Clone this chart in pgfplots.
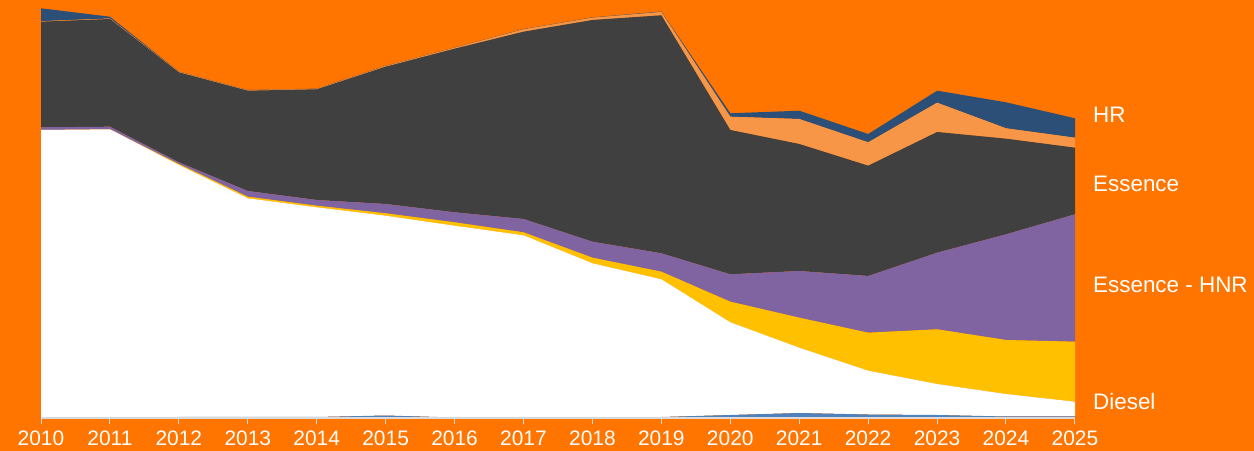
\documentclass[border=0pt]{standalone}
\usepackage{pgfplots}
\usepackage{pgfplotstable}
\pgfplotsset{compat=1.18}
\usepackage{fontspec}
\setmainfont{Liberation Sans}
\definecolor{bgor}{HTML}{FF7500}
\definecolor{dgray}{HTML}{404040}
\definecolor{purp}{HTML}{8064A2}
\definecolor{yel}{HTML}{FFC000}
\definecolor{lor}{HTML}{F79646}
\definecolor{dblue}{HTML}{2C4F78}
\definecolor{lblue}{HTML}{4F81BD}
\definecolor{axgray}{HTML}{D9D9D9}
\pgfplotstableread{
year b   w     y    p     d     lo   hr
2010 0   288   0    2.7   105.6 0.5  12.9
2011 0   288.7 0    2.6   107.7 0.5  1.8
2012 1   252   1    1.7   90    0.5  0.2
2013 1.2 218.5 1.6  5.7   100.3 0.5  0.2
2014 1   209.7 1.6  5.7   110.7 0.5  0.2
2015 2.5 199.8 2.4  9.3   137.3 0.7  0.2
2016 0.5 191.8 3.4  10    163.6 1    0.2
2017 0   182.7 3    13.3  187.3 2.4  0.3
2018 0   154.7 5.6  16    221.7 2.3  0.3
2019 1   137.7 7.6  18.4  238   3.3  0.5
2020 3   92.7  20.6 27.4  144.3 13.3 3.4
2021 5   65.3  30   46.7  127   25   8.3
2022 3.5 43.8  38   56.7  110.3 23.4 8.3
2023 3   31    54.7 76.6  120.7 29.3 12
2024 1.5 22.5  54   105.7 95.6  10.4 26
2025 1.5 14.8  60   127.4 66.6  10   19.4
}\datatable
\begin{document}
\begin{tikzpicture}
\fill[bgor] (0,0) rectangle (1254bp,451bp);
\useasboundingbox (0,0) rectangle (1254bp,451bp);
\begin{axis}[
  at={(41bp,33bp)}, anchor=south west,
  scale only axis, width=1034bp, height=418bp,
  xmin=2010, xmax=2025, ymin=0, ymax=418,
  stack plots=y,
  axis x line=bottom, axis y line=none,
  axis line style={-, draw=axgray, line width=1.5bp},
  axis on top,
  xtick={2010,...,2025},
  tick align=outside,
  major tick length=6bp,
  tick style={draw=axgray, line width=1bp},
  xticklabel style={/pgf/number format/1000 sep={}, text=white,
     font=\fontsize{21}{21}\selectfont, yshift=-3bp},
  /pgf/number format/assume math mode=true,
  clip=false,
]
\addplot[fill=lblue, draw=none] table[x=year,y=b] {\datatable} \closedcycle;
\addplot[fill=white, draw=none] table[x=year,y=w] {\datatable} \closedcycle;
\addplot[fill=yel, draw=none] table[x=year,y=y] {\datatable} \closedcycle;
\addplot[fill=purp, draw=none] table[x=year,y=p] {\datatable} \closedcycle;
\addplot[fill=dgray, draw=none] table[x=year,y=d] {\datatable} \closedcycle;
\addplot[fill=lor, draw=none] table[x=year,y=lo] {\datatable} \closedcycle;
\addplot[fill=dblue, draw=none] table[x=year,y=hr] {\datatable} \closedcycle;
\node[anchor=west, xshift=18bp, text=white, font=\fontsize{22.5}{22.5}\selectfont, inner sep=0pt] at (axis cs:2025,303) {HR};
\node[anchor=west, xshift=18bp, text=white, font=\fontsize{22.5}{22.5}\selectfont, inner sep=0pt] at (axis cs:2025,234) {Essence};
\node[anchor=west, xshift=18bp, text=white, font=\fontsize{22.5}{22.5}\selectfont, inner sep=0pt] at (axis cs:2025,133) {Essence - HNR};
\node[anchor=west, xshift=18bp, text=white, font=\fontsize{22.5}{22.5}\selectfont, inner sep=0pt] at (axis cs:2025,17) {Diesel};
\end{axis}
\end{tikzpicture}
\end{document}
